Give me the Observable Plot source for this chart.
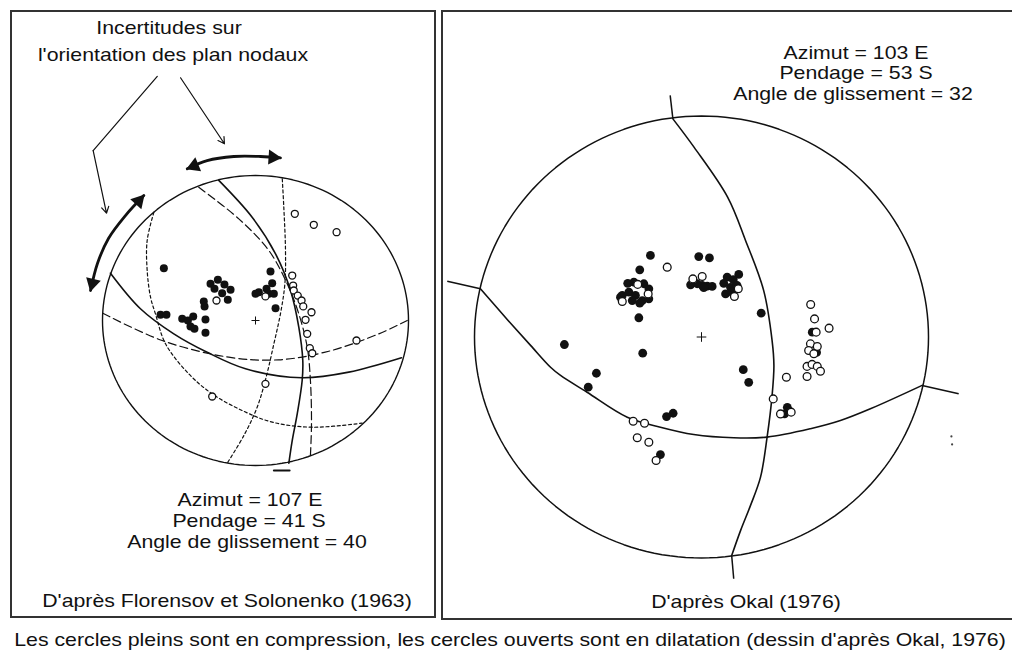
<!DOCTYPE html>
<html><head><meta charset="utf-8">
<script src="https://cdn.jsdelivr.net/npm/d3@7"></script>
<script src="https://cdn.jsdelivr.net/npm/@observablehq/plot@0.6"></script>
<style>
body{margin:0;background:#fff;}
#fig{position:relative;width:1012px;height:655px;overflow:hidden;font-family:"Liberation Sans",Arial,Helvetica,sans-serif;color:#111;}
#fig svg{position:absolute;left:0;top:0;}
.box{position:absolute;border:2px solid #333;box-sizing:border-box;}
.t{position:absolute;white-space:nowrap;font-size:18.5px;line-height:1;transform:translateX(-50%) scaleX(1.15);}
</style></head><body><div id="fig"></div>
<script>
// ---- data (stereonet units: radius of the net = 100, y up) ----
const leftFilled = [[-59.9,36.1],[-29.4,25.3],[-24.6,28.1],[-20.3,24.8],[-16.3,21.2],[-21.8,18.8],[-18.1,14.3],[-26.8,21.9],[-33.8,13.1],[-33.3,9.7],[-62.1,3.9],[-58.2,3.9],[-47.9,1.2],[-44.2,0],[-40.7,2.8],[-42.5,-4.1],[-39.9,-5.7],[-32.7,0.7],[-32.7,-8.5],[9.8,33.8],[10.9,25.7],[7.2,21.9],[2.2,19.5],[0,18.4],[8.7,18.4],[12,18.4],[13.1,8.5]];
const leftOpen = [[-25.5,13.8],[6.5,16.6],[25.7,73.6],[38.1,66],[53,60.9],[24,31],[24.6,24.1],[25,20.7],[27.6,17.2],[30.1,13.8],[31.2,9.7],[36.6,5.7],[32.7,0.5],[33.8,-9.2],[35.5,-19.1],[37.1,-22.6],[66,-13.8],[6.5,-43.7],[-28.3,-52.4]];
const leftPlane1 = [[-24,96.6],[-2.2,71.2],[13.1,46],[22.9,20.7],[28.3,-4.6],[30.9,-27.6],[30.5,-41.4],[27.3,-64.3],[24,-82.8],[21.8,-98.4]];
const leftPlane2 = [[-94.8,32.6],[-75.2,8.1],[-53.4,-9.2],[-31.6,-21.9],[-6.5,-33.3],[30.5,-39.5],[61,-35.6],[95.4,-25.7]];
const leftDashed1 = [[-37.1,91.9],[-10.9,70.1],[8.7,48.3],[20.7,25.3],[28.3,4.6],[33.8,-18.4],[35.9,-41.4],[36.6,-71.2],[35.9,-93.1]];
const leftDashed2 = [[-99.8,5],[-61,-13.8],[-17.5,-25.3],[15.2,-27.1],[47.9,-21.2],[80.6,-9.2],[99.2,0]];
const leftDotted1 = [[-66.4,74.7],[-70.8,55.2],[-70.8,34.5],[-68.6,16.1],[-65.4,4.6],[-58.8,-16.1],[-43.6,-36.8],[-28.3,-50.6],[-8.7,-62.1],[10.9,-70.1],[37,-73.6],[69.7,-70.8]];
const leftDotted2 = [[17.5,97.7],[18.5,78.1],[19.6,48.3],[19.2,25.3],[16.3,4.6],[12,-16.1],[7,-38.9],[1.1,-59.8],[-7.6,-79.3],[-18.5,-98.4]];
const leftBottomMark = [[12,-103.4],[22.3,-103.4]];
const leftArrowTop = [[-44.6,104.6],[-31.6,110.3],[-14.2,113.1],[3.3,113.1],[16.3,112.2]];
const leftArrowSide = [[-73,86.2],[-85,72.4],[-96.1,56.6],[-103.3,39.3],[-107.8,20.7]];
const pointerA = [[-64.2,168.3],[-106.1,117.2],[-97.4,74]];
const pointerB = [[-49,167.4],[-20.3,121.9]];

const rightFilled = [[-22.5,36.9],[-27.2,30.4],[-32.5,24.3],[-29.8,24.8],[-25.4,24.1],[-23.2,21.8],[-34.9,18.8],[-32,20.3],[-29.1,18.8],[-26.1,16.5],[-23.2,17.3],[-30.5,16.5],[-27.2,15.3],[-35.7,18],[-27.6,8.7],[-1.2,36.4],[3.5,35.8],[-4.8,23.6],[-1.9,24.1],[0.3,23.3],[2.5,23],[4.7,22.9],[1,22.3],[16.4,28.3],[11.3,27.1],[14,25.9],[9.8,24.3],[12.8,22.5],[10.6,19.5],[13.5,20.3],[15.7,23.3],[26.3,10.8],[-60.4,-3.4],[-25.9,-7.3],[-46.3,-16.4],[-49.9,-22.7],[18.4,-14.8],[20.8,-20.5],[-15.4,-36],[-12.5,-34.5],[-18.1,-53.2],[37.8,-31.8],[36.6,-34.8],[38.3,-33.3],[48.8,2.2],[50.7,-7]];
const rightOpen = [[-15.1,31.6],[-28.1,23.8],[-23.5,19.5],[-34.9,16.1],[-3.8,26.3],[0.3,27.4],[16.2,21.8],[14.5,18.3],[37.4,-18.2],[-30.1,-38.1],[-25.1,-39],[-28.3,-45.6],[-23.2,-47.6],[-20,-55.9],[31.6,-28],[34.8,-34.8],[39.5,-34],[48.1,14.7],[49.8,8.2],[56.2,4],[50.5,2.2],[48,-3.1],[51,-4.3],[47.2,-6.1],[49.5,-7.6],[46.5,-13.3],[48.7,-12.4],[51,-13.3],[52.4,-15.5],[46.5,-17.9]];
const rightPlaneA = [[-12.6,98.7],[-3.3,85.9],[11.5,63.3],[19.4,43.7],[27.4,21],[31.1,-1.6],[31.9,-12.9],[31.1,-26.5],[28.9,-45.3],[26,-63.4],[21.6,-76.2],[17.2,-87.6],[13.3,-98.9]];
const rightPlaneB = [[-97.4,21.8],[-85.2,7.5],[-75.3,-3.8],[-66.5,-13.7],[-62.1,-17.4],[-50.4,-25],[-32.7,-36.3],[-18.1,-40.8],[-3.4,-44.1],[14.2,-45.6],[28.9,-45.3],[48,-41.5],[61.2,-37.8],[74.4,-32.5],[97.2,-21.9]];
const rightStubs = [[[-13.8,109.3],[-12.6,98.7]],[[13.3,-98.9],[14.2,-109.4]],[[-112,25.2],[-97.4,21.8]],[[97.2,-21.9],[113.3,-25.7]]];
const rightSpecks = [[110.1,-45],[110.4,-48.6]];

const pointerLabel = ["Incertitudes sur", "l'orientation des plan nodaux"];
const leftParams = ["Azimut = 107 E", "Pendage = 41 S", "Angle de glissement = 40"];
const rightParams = ["Azimut = 103 E", "Pendage = 53 S", "Angle de glissement = 32"];
const leftSource = "D'après Florensov et Solonenko (1963)";
const rightSource = "D'après Okal (1976)";
const caption = "Les cercles pleins sont en compression, les cercles ouverts sont en dilatation (dessin d'après Okal, 1976)";

// ---- layout ----
const W = 1012, H = 655;
const LG = {cx:255, cy:320, rx:153, ry:145};
const RG = {cx:701, cy:336.5, rx:227, ry:221};
const ink = "#111";
const rim = d3.range(0, 361, 2).map(a => [100*Math.cos(a*Math.PI/180), 100*Math.sin(a*Math.PI/180)]);
const X = d => d[0], Y = d => d[1];

function net(g, marks){
  return Plot.plot({
    width: W, height: H, margin: 0,
    style: {background: "transparent", overflow: "visible"},
    x: {domain: [-g.cx/g.rx*100, (W-g.cx)/g.rx*100], axis: null},
    y: {domain: [(g.cy-H)/g.ry*100, g.cy/g.ry*100], axis: null},
    marks
  });
}
function heads(line, g, k){
  const out = [];
  for (const [a, b] of [[line[1], line[0]], [line[line.length-2], line[line.length-1]]]) {
    const dx = (b[0]-a[0])*g.rx/100, dy = -(b[1]-a[1])*g.ry/100;
    const len = Math.hypot(dx, dy), ux = dx/len, uy = dy/len;
    out.push({x: b[0] - k*ux*100/g.rx, y: b[1] + k*uy*100/g.ry, angle: Math.atan2(dx, -dy)*180/Math.PI});
  }
  return out;
}
const cr = "catmull-rom";

const left = net(LG, [
  Plot.line(rim, {x: X, y: Y, stroke: ink, strokeWidth: 1.4}),
  Plot.line(leftDotted1, {x: X, y: Y, curve: cr, stroke: ink, strokeWidth: 1.2, strokeDasharray: "3,2.6"}),
  Plot.line(leftDotted2, {x: X, y: Y, curve: cr, stroke: ink, strokeWidth: 1.2, strokeDasharray: "3,2.6"}),
  Plot.line(leftDashed1, {x: X, y: Y, curve: cr, stroke: ink, strokeWidth: 1.2, strokeDasharray: "8,4"}),
  Plot.line(leftDashed2, {x: X, y: Y, curve: cr, stroke: ink, strokeWidth: 1.2, strokeDasharray: "8,4"}),
  Plot.line(leftPlane1, {x: X, y: Y, curve: cr, stroke: ink, strokeWidth: 1.6}),
  Plot.line(leftPlane2, {x: X, y: Y, curve: cr, stroke: ink, strokeWidth: 1.6}),
  Plot.line(leftBottomMark, {x: X, y: Y, stroke: ink, strokeWidth: 2}),
  Plot.line(leftArrowTop, {x: X, y: Y, curve: cr, stroke: ink, strokeWidth: 2.8}),
  Plot.line(leftArrowSide, {x: X, y: Y, curve: cr, stroke: ink, strokeWidth: 2.8}),
  Plot.dot(heads(leftArrowTop, LG, 7.5).concat(heads(leftArrowSide, LG, 7.5)), {x: "x", y: "y", rotate: "angle", symbol: "triangle", r: 5.6, fill: ink}),
  Plot.line(pointerA.slice(0, 2), {x: X, y: Y, stroke: ink, strokeWidth: 1.2}),
  Plot.arrow([[pointerA[1], pointerA[2]], [pointerB[0], pointerB[1]]], {x1: d => d[0][0], y1: d => d[0][1], x2: d => d[1][0], y2: d => d[1][1], stroke: ink, strokeWidth: 1.2, headLength: 9}),
  Plot.dot([[0,0]], {x: X, y: Y, symbol: "plus", r: 2.7, stroke: ink, strokeWidth: 1}),
  Plot.dot(leftFilled, {x: X, y: Y, r: 4, fill: ink}),
  Plot.dot(leftOpen, {x: X, y: Y, r: 3.5, fill: "white", stroke: ink, strokeWidth: 1.3})
]);

const right = net(RG, [
  Plot.line(rim, {x: X, y: Y, stroke: ink, strokeWidth: 1.5}),
  Plot.line(rightPlaneA, {x: X, y: Y, curve: cr, stroke: ink, strokeWidth: 1.6}),
  Plot.line(rightPlaneB, {x: X, y: Y, curve: cr, stroke: ink, strokeWidth: 1.6}),
  Plot.link(rightStubs, {x1: d => d[0][0], y1: d => d[0][1], x2: d => d[1][0], y2: d => d[1][1], stroke: ink, strokeWidth: 1.5}),
  Plot.dot(rightSpecks, {x: X, y: Y, r: 1.1, fill: "#444"}),
  Plot.dot([[0,0]], {x: X, y: Y, symbol: "plus", r: 3.2, stroke: ink, strokeWidth: 1}),
  Plot.dot(rightFilled, {x: X, y: Y, r: 4.4, fill: ink}),
  Plot.dot(rightOpen, {x: X, y: Y, r: 3.9, fill: "white", stroke: ink, strokeWidth: 1.3})
]);

const fig = document.getElementById("fig");
function box(l, t, w, h){ const d = document.createElement("div"); d.className = "box"; Object.assign(d.style, {left: l+"px", top: t+"px", width: w+"px", height: h+"px"}); fig.appendChild(d); }
box(10, 10, 426, 608);
box(441, 10, 580, 610);
fig.appendChild(left);
fig.appendChild(right);
function label(s, cx, baseline){ const d = document.createElement("div"); d.className = "t"; d.textContent = s; d.style.left = cx + "px"; d.style.top = (baseline - 15.7) + "px"; fig.appendChild(d); }
label(pointerLabel[0], 169, 35);
label(pointerLabel[1], 173, 62);
label(leftParams[0], 249.5, 507);
label(leftParams[1], 248.5, 528);
label(leftParams[2], 246.7, 549);
label(leftSource, 227.3, 608);
label(rightParams[0], 855.8, 59.3);
label(rightParams[1], 855.8, 80);
label(rightParams[2], 853.3, 100.7);
label(rightSource, 745.5, 609);
label(caption, 510, 647);
</script></body></html>
